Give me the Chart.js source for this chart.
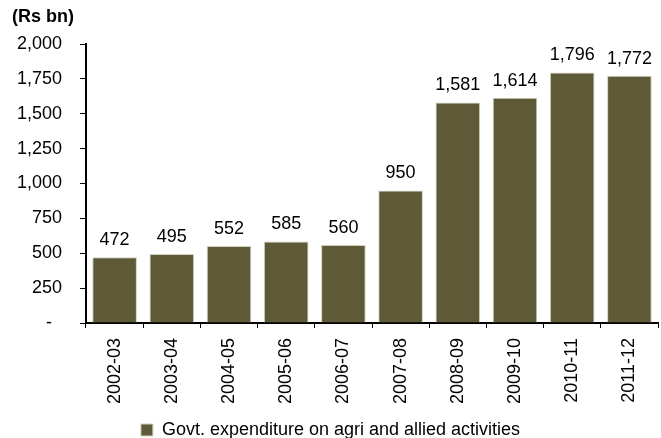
<!DOCTYPE html>
<html>
<head>
<meta charset="utf-8">
<script src="https://cdn.jsdelivr.net/npm/chart.js@4/dist/chart.umd.min.js"></script>
<style>
  html, body { margin: 0; padding: 0; background: #fff; }
  #c { display: block; }
</style>
</head>
<body>
<canvas id="c" width="661" height="438"></canvas>
<script>
const years = ["2002-03", "2003-04", "2004-05", "2005-06", "2006-07", "2007-08", "2008-09", "2009-10", "2010-11", "2011-12"];
const spend = [472, 495, 552, 585, 560, 950, 1581, 1614, 1796, 1772];
const yTicks = [0, 250, 500, 750, 1000, 1250, 1500, 1750, 2000];
const unitLabel = "(Rs bn)";
const seriesName = "Govt. expenditure on agri and allied activities";

const FONT = "'Liberation Sans', Arial, sans-serif";
const fmt = v => v === 0 ? "-  " : v.toLocaleString("en-US");

// value labels above bars + unit caption
const labelsPlugin = {
    id: "barLabels",
    afterDatasetsDraw(chart) {
        const ctx = chart.ctx;
        const meta = chart.getDatasetMeta(0);
        ctx.save();
        ctx.font = "18px " + FONT;
        ctx.fillStyle = "#000";
        ctx.textAlign = "center";
        ctx.textBaseline = "alphabetic";
        meta.data.forEach((bar, i) => {
            ctx.fillText(fmt(spend[i]), bar.x, bar.y - 12);
        });
        ctx.font = "bold 18px " + FONT;
        ctx.textAlign = "left";
        ctx.textBaseline = "middle";
        ctx.fillText(unitLabel, 12, 17);
        ctx.restore();
    }
};

new Chart(document.getElementById("c"), {
    type: "bar",
    data: {
        labels: years,
        datasets: [{
            label: seriesName,
            data: spend,
            backgroundColor: "#5e5a38",
            borderColor: "#d2cfbb",
            borderWidth: 1,
            barPercentage: 0.78,
            categoryPercentage: 1
        }]
    },
    options: {
        responsive: false,
        animation: false,
        layout: { padding: { top: 44, left: 0, right: 0, bottom: -11 } },
        scales: {
            x: {
                afterFit: s => { s.height = 98; },
                border: { color: "#000", width: 2 },
                grid: { drawOnChartArea: false, drawTicks: true, tickLength: 5, color: "#000", offset: true },
                ticks: { color: "#000", font: { family: FONT, size: 18 }, minRotation: 90, maxRotation: 90, padding: 10 }
            },
            y: {
                min: 0,
                max: 2000,
                afterFit: s => { s.width = 86; },
                afterBuildTicks: s => { s.ticks = yTicks.map(v => ({ value: v })); },
                border: { color: "#000", width: 2 },
                grid: { drawOnChartArea: false, drawTicks: true, tickLength: 6, color: "#000" },
                ticks: { color: "#000", font: { family: FONT, size: 18 }, padding: 18, callback: v => fmt(v) }
            }
        },
        plugins: {
            legend: {
                position: "bottom",
                labels: {
                    color: "#000",
                    font: { family: FONT, size: 18 },
                    boxWidth: 12,
                    boxHeight: 12,
                    padding: 0
                }
            },
            tooltip: { enabled: false }
        }
    },
    plugins: [labelsPlugin]
});
</script>
</body>
</html>
